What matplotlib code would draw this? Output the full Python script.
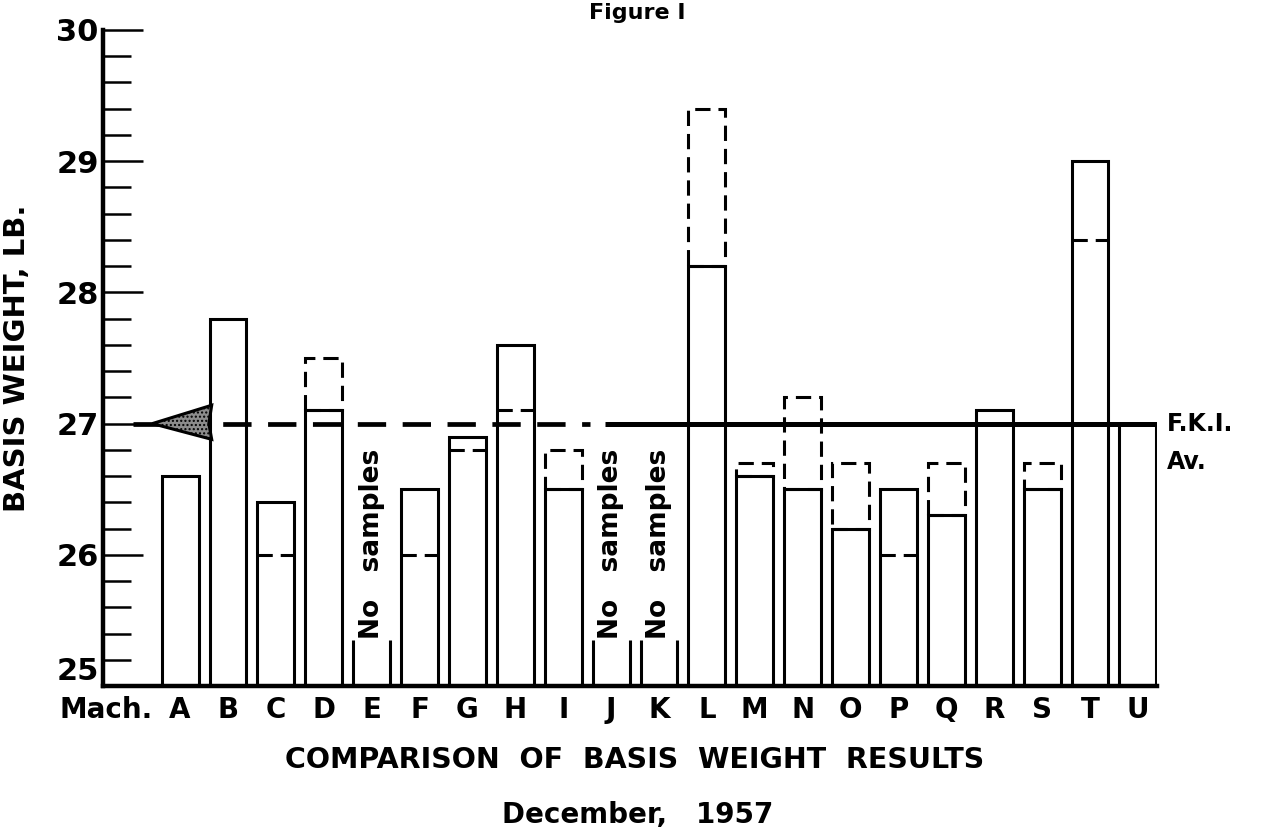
import numpy as np
import matplotlib
matplotlib.use("Agg")
import matplotlib.pyplot as plt
from matplotlib.patches import Polygon

plt.rcParams["font.family"] = ["DejaVu Sans"]
plt.rcParams["font.weight"] = "bold"
plt.rcParams["axes.labelweight"] = "bold"

# ── data ──────────────────────────────────────────────────────────────────────
machines = list("ABCDEFGHIJKLMNOPQRSTU")
# solid bar tops (None = no samples)
solid = [26.6, 27.8, 26.4, 27.1, None, 26.5, 26.9, 27.6, 26.5, None, None,
         28.2, 26.6, 26.5, 26.2, 26.5, 26.3, 27.1, 26.5, 29.0, 27.0]
# dashed extension above the solid bar
dashed_top = {"D": 27.5, "I": 26.8, "L": 29.4, "M": 26.7, "N": 27.2,
              "O": 26.7, "Q": 26.7, "S": 26.7}
# dashed mark inside the solid bar
dashed_in = {"C": 26.0, "F": 26.0, "G": 26.8, "H": 27.1, "P": 26.0, "T": 28.4}
fki_avg = 27.0
y_min, y_max = 25, 30

BW = 0.77
LW = 2.2
BAR_DASH = (5, 2.6)

fig = plt.figure(figsize=(12.67, 8.33), dpi=100)
ax = fig.add_axes([103 / 1267, 1 - 686 / 833, (1157 - 103) / 1267, (686 - 30) / 833])
ax.set_xlim(-1.61, 20.4)
ax.set_ylim(y_min, y_max)

pos = {m: i for i, m in enumerate(machines)}

# ── bars ──────────────────────────────────────────────────────────────────────
for m, top in zip(machines, solid):
    x = pos[m]
    if top is None:
        ax.vlines([x - BW / 2, x + BW / 2], y_min, 25.35, color="black", lw=LW)
        ax.text(x, 25.36, "No   samples", rotation=90, ha="center", va="bottom",
                fontsize=19)
        continue
    ax.bar(x, top - y_min, bottom=y_min, width=BW, fill=False,
           edgecolor="black", lw=LW, zorder=3)
    if m in dashed_top:
        d = dashed_top[m]
        ax.bar(x, d - top, bottom=top, width=BW, fill=False, edgecolor="black",
               lw=LW, linestyle=(0, BAR_DASH), zorder=3)
    if m in dashed_in:
        ax.hlines(dashed_in[m], x - BW / 2, x + BW / 2, color="black", lw=LW,
                  linestyle=(0, BAR_DASH), zorder=3)

# ── F.K.I. average line with arrow ────────────────────────────────────────────
ax.plot([-0.98, 8.56], [fki_avg, fki_avg], color="black", lw=3.4,
        linestyle=(0, (6, 3.5)), zorder=4)
ax.plot([8.87, 20.4], [fki_avg, fki_avg], color="black", lw=3.6, zorder=4,
        solid_capstyle="butt")
arrow = Polygon([[-0.58, fki_avg], [0.66, 27.14], [0.6, 27.0], [0.66, 26.88]],
                closed=True, facecolor="0.55", edgecolor="black", lw=2.2,
                hatch="....", zorder=5)
ax.add_patch(arrow)
ax.text(20.6, fki_avg, "F.K.I.", ha="left", va="center", fontsize=17)
ax.text(20.6, fki_avg - 0.29, "Av.", ha="left", va="center", fontsize=17)

# ── axes styling ──────────────────────────────────────────────────────────────
for s in ("top", "right"):
    ax.spines[s].set_visible(False)
ax.spines["left"].set_linewidth(3.2)
ax.spines["bottom"].set_linewidth(3.2)
ax.set_yticks(np.arange(y_min, y_max + 1, 1))
ax.set_yticks(np.arange(y_min, y_max + 0.01, 0.2), minor=True)
ax.tick_params(axis="y", which="major", direction="in", length=29, width=1.8,
               labelsize=22, pad=3)
ax.tick_params(axis="y", which="minor", direction="in", length=20, width=1.8)
ax.get_yticklabels()[0].set_verticalalignment("bottom")
ax.set_xticks(range(len(machines)))
ax.set_xticklabels(machines)
ax.tick_params(axis="x", length=0, labelsize=20, pad=7)
ax.text(-1.54, -0.016, "Mach.", transform=ax.get_xaxis_transform(),
        ha="center", va="top", fontsize=20, clip_on=False)

ax.set_ylabel("BASIS WEIGHT, LB.", fontsize=21, labelpad=18)

fig.text(637 / 1267, 1 - 13 / 833, "Figure I", ha="center", va="center",
         fontsize=16)
fig.text(635 / 1267, 1 - 760 / 833, "COMPARISON  OF  BASIS  WEIGHT  RESULTS",
         ha="center", va="center", fontsize=20.5)
fig.text(638 / 1267, 1 - 815 / 833, "December,   1957", ha="center",
         va="center", fontsize=20)

fig.savefig("out.png", dpi=100)
